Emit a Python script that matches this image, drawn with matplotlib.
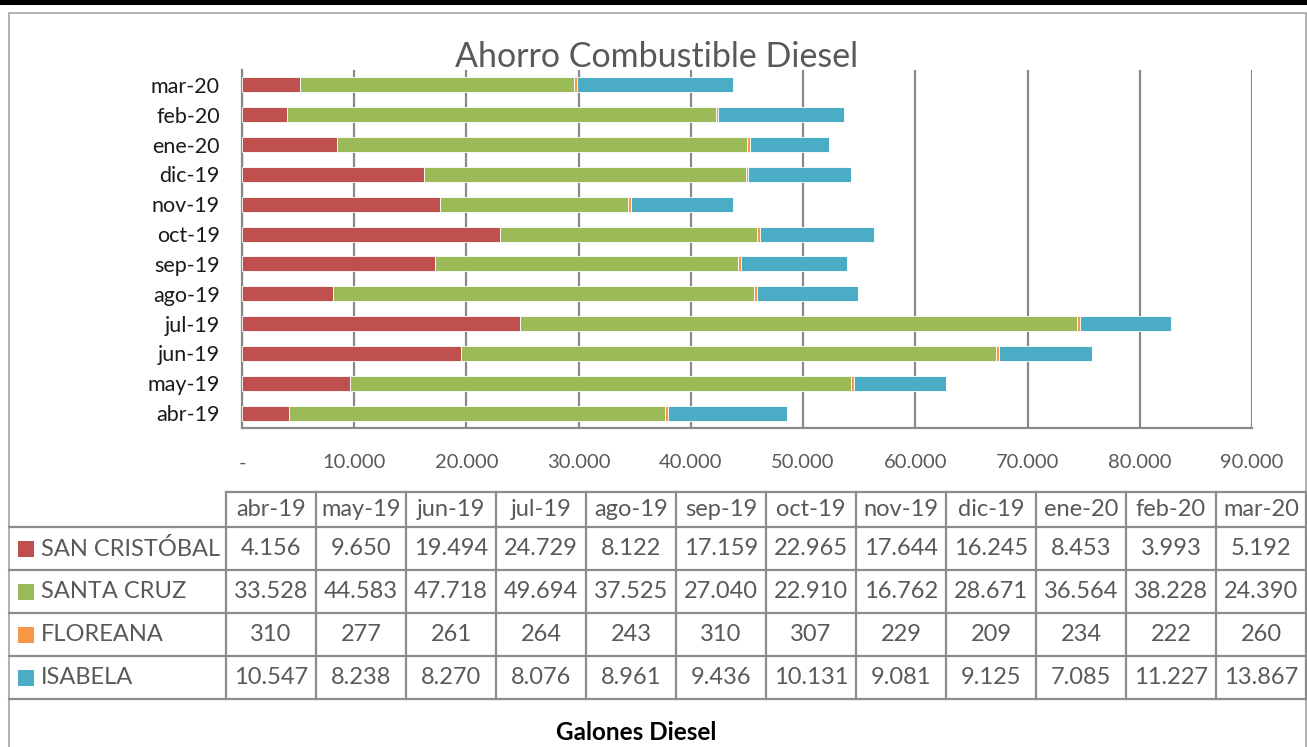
import matplotlib
matplotlib.use("Agg")
import matplotlib.pyplot as plt
from matplotlib.patches import Rectangle
from matplotlib.lines import Line2D
import numpy as np

plt.rcParams['font.family'] = ['Lato', 'DejaVu Sans']

# ---------------- data ----------------
months = ['abr-19', 'may-19', 'jun-19', 'jul-19', 'ago-19', 'sep-19',
          'oct-19', 'nov-19', 'dic-19', 'ene-20', 'feb-20', 'mar-20']
series_names = ['SAN CRISTÓBAL', 'SANTA CRUZ', 'FLOREANA', 'ISABELA']
san_cristobal = [4156, 9650, 19494, 24729, 8122, 17159, 22965, 17644, 16245, 8453, 3993, 5192]
santa_cruz = [33528, 44583, 47718, 49694, 37525, 27040, 22910, 16762, 28671, 36564, 38228, 24390]
floreana = [310, 277, 261, 264, 243, 310, 307, 229, 209, 234, 222, 260]
isabela = [10547, 8238, 8270, 8076, 8961, 9436, 10131, 9081, 9125, 7085, 11227, 13867]
x_ticks = [0, 10000, 20000, 30000, 40000, 50000, 60000, 70000, 80000, 90000]
title = 'Ahorro Combustible Diesel'
x_title = 'Galones Diesel'

colors = ['#C0504D', '#9BBB59', '#F79646', '#4BACC6']
series = [san_cristobal, santa_cruz, floreana, isabela]

W, H = 1307, 747
fig = plt.figure(figsize=(W / 100, H / 100), dpi=100)
fig.patch.set_facecolor('white')


def fx(px):
    return px / W


def fy(py):
    return 1 - py / H


def fmt(v):
    return f'{v:,}'.replace(',', '.')


GRID = '#898989'
TXT = '#595959'

# top black bar
fig.add_artist(Rectangle((0, fy(5)), 1, 5 / H, transform=fig.transFigure,
                         facecolor='black', edgecolor='none', zorder=0))
# outer chart border
fig.add_artist(Rectangle((fx(8.5), fy(760)), fx(1305.5) - fx(8.5), fy(12.5) - fy(760),
                         transform=fig.transFigure, facecolor='none',
                         edgecolor='#a6a6a6', lw=1.2, zorder=1))

# ---------------- bar chart ----------------
ax = fig.add_axes([fx(242), fy(428), fx(1252) - fx(242), fy(70) - fy(428)])
y = np.arange(len(months))
left = np.zeros(len(months))
for vals, c, name in zip(series, colors, series_names):
    ax.barh(y, vals, left=left, height=0.5, color=c, edgecolor='white',
            linewidth=0.6, label=name, zorder=3)
    left = left + np.array(vals)

ax.set_ylim(-0.5, len(months) - 0.5)
ax.set_xlim(x_ticks[0], x_ticks[-1])
ax.set_yticks(y)
ax.set_yticklabels(months, fontsize=15.5, color='#1a1a1a')
ax.set_xticks(x_ticks)
ax.set_xticklabels(['-' if t == 0 else fmt(t) for t in x_ticks], fontsize=14.5, color=TXT)
ax.tick_params(axis='both', length=0)
ax.tick_params(axis='x', pad=19)
ax.tick_params(axis='y', pad=16)
ax.xaxis.grid(True, color=GRID, lw=1.6, zorder=0)
ax.set_axisbelow(True)
for s in ['top', 'right']:
    ax.spines[s].set_visible(False)
for s in ['left', 'bottom']:
    ax.spines[s].set_color(GRID)
    ax.spines[s].set_linewidth(1.6)

fig.text(fx(657), fy(57), title, ha='center', va='center', fontsize=24.5, color=TXT)

# ---------------- data table ----------------
col0 = 226
colw = 90
tbl_right = col0 + colw * len(months)
hdr_top, hdr_bot = 492, 527
row_lines = [527, 570, 613, 656, 699]
LC = '#8c8c8c'
LW = 1.6


def hline(py, x0, x1):
    fig.add_artist(Line2D([fx(x0), fx(x1)], [fy(py), fy(py)], transform=fig.transFigure,
                          color=LC, lw=LW))


def vline(px, y0, y1):
    fig.add_artist(Line2D([fx(px), fx(px)], [fy(y0), fy(y1)], transform=fig.transFigure,
                          color=LC, lw=LW))


hline(hdr_top, col0, tbl_right)
for py in row_lines:
    hline(py, 8.5, tbl_right)
for i in range(len(months) + 1):
    vline(col0 + i * colw, hdr_top, row_lines[-1])

for i, m in enumerate(months):
    fig.text(fx(col0 + colw * (i + 0.5)), fy((hdr_top + hdr_bot) / 2), m,
             ha='center', va='center', fontsize=17, color=TXT)

for r, (name, vals, c) in enumerate(zip(series_names, series, colors)):
    cy = (row_lines[r] + row_lines[r + 1]) / 2
    fig.add_artist(Rectangle((fx(18), fy(cy + 8)), fx(34) - fx(18), 16 / H,
                             transform=fig.transFigure, facecolor=c, edgecolor='none'))
    fig.text(fx(41), fy(cy), name, ha='left', va='center', fontsize=17, color=TXT)
    for i, v in enumerate(vals):
        fig.text(fx(col0 + colw * (i + 0.5)), fy(cy), fmt(v),
                 ha='center', va='center', fontsize=17, color=TXT)

fig.text(fx(636), fy(733), x_title, ha='center', va='center', fontsize=17.5,
         fontweight='bold', color='black')

fig.savefig('out.png', dpi=100)
